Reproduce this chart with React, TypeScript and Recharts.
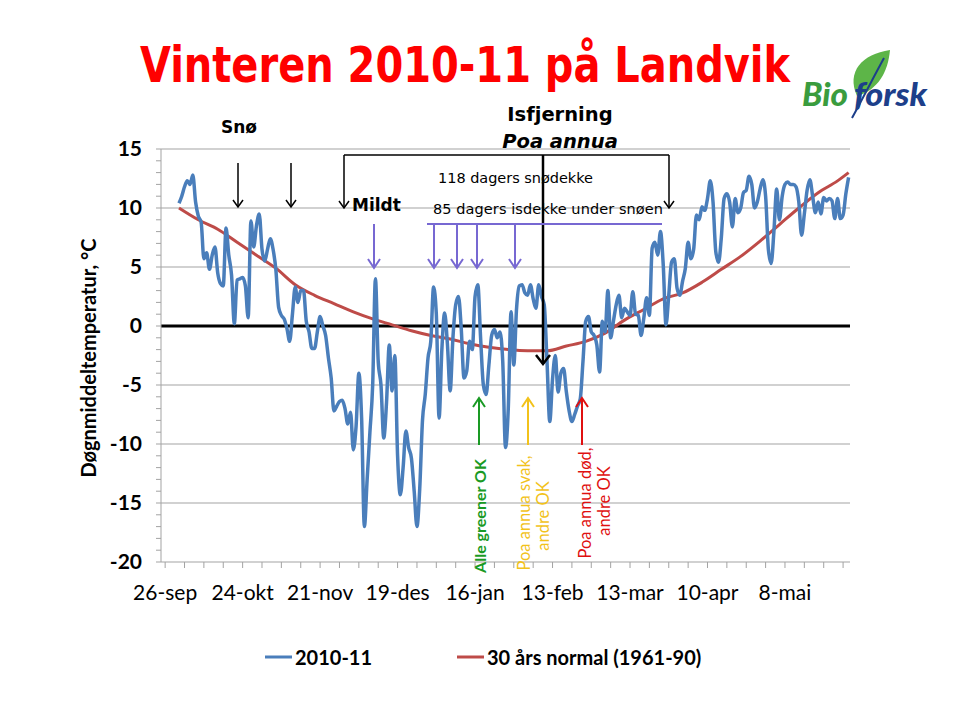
import React from 'react';
import { LineChart, Line, XAxis, YAxis, ReferenceLine } from 'recharts';

// day numbers are counted from 26-sep 2010 (day 0)
const firstDay = 5; // 1-okt
const temp2010 = [
  10.4, 11.0, 11.8, 12.3, 12.0, 12.8, 10.5, 9.3, 8.8, 5.7, // day 5
  6.2, 4.8, 6.0, 6.7, 4.5, 3.6, 3.4, 8.3, 6.0, 4.3, // 15
  0.2, 3.9, 4.0, 4.1, 3.4, 0.7, 8.9, 6.7, 8.5, 9.5, // 25
  6.5, 5.5, 6.5, 7.4, 6.5, 4.8, 1.6, 0.9, 0.6, -0.2, // 35
  -1.3, 1.0, 3.3, 2.0, 3.0, 3.0, 0.4, -0.5, -1.9, -1.9, // 45
  -0.5, 0.8, 0.0, -0.8, -2.7, -4.4, -7.2, -6.8, -6.4, -6.3, // 55
  -7.0, -8.3, -7.3, -10.5, -8.5, -4.0, -7.8, -17.0, -13.0, -9.0, // 65
  -5.0, 4.0, -3.0, -5.0, -9.5, -6.5, -1.6, -5.5, -2.5, -11.0, // 75
  -14.3, -12.0, -8.9, -10.3, -11.2, -14.0, -17.0, -13.8, -8.0, -5.8, // 85
  -2.7, -1.3, 3.3, 1.0, -7.8, -2.0, 1.1, -1.5, -5.5, -1.0, // 95
  1.8, 2.5, -0.2, -4.4, -3.8, -1.3, -2.0, 2.5, 3.5, -1.0, // 105
  -5.0, -5.8, -3.3, -0.8, -0.3, -1.0, -0.5, -3.0, -10.3, -7.0, // 115
  1.2, -3.3, 1.5, 3.4, 3.5, 2.8, 2.6, 3.5, 2.3, 1.5, // 125
  3.5, 2.5, 1.8, -3.0, -8.1, -4.5, -2.5, -5.6, -4.0, -3.6, // 135
  -5.6, -7.2, -8.1, -7.5, -6.8, -6.2, -3.0, 0.4, 0.8, -0.5, // 145
  -0.8, -1.6, -3.9, 0.4, -0.5, 3.0, -1.0, 0.4, 1.8, 2.6, // 155
  0.7, 1.5, 1.2, 0.9, 2.9, 1.0, 0.9, -0.8, 0.7, 2.4, // 165
  0.9, 6.6, 7.1, 6.0, 8.0, 5.2, 0.1, 2.6, 5.4, 5.7, // 175
  3.2, 2.6, 3.8, 4.9, 7.1, 5.7, 6.5, 9.4, 9.0, 10.1, // 185
  9.8, 10.8, 12.3, 10.5, 6.3, 5.4, 7.5, 10.8, 11.2, 10.5, // 195
  8.4, 10.8, 9.6, 10.0, 11.3, 11.5, 12.7, 12.0, 10.0, 10.5, // 205
  11.6, 12.4, 11.0, 6.5, 5.3, 8.0, 11.6, 9.0, 11.0, 12.0, // 215
  12.2, 12.0, 12.0, 11.8, 10.5, 7.7, 9.5, 11.5, 12.4, 11.0, // 225
  9.6, 10.5, 9.5, 10.9, 10.6, 10.8, 10.6, 9.1, 10.8, 9.1, // 235
  9.4, 11.2, 12.6, // 245
];

const normalDays = [5, 12, 19, 26, 33, 40, 47, 54, 61, 68, 75, 82, 89, 96, 103, 110, 117, 124,
  131, 138, 145, 152, 159, 166, 173, 180, 187, 194, 201, 208, 215, 222, 229, 236, 243, 247];
const normalTemps = [10.0, 9.0, 8.2, 7.1, 6.0, 4.9, 3.5, 2.6, 1.9, 1.2, 0.6, 0.1, -0.4, -0.8, -1.1, -1.5, -1.8, -2.0,
  -2.1, -2.1, -1.7, -1.3, -0.6, 0.5, 1.4, 2.3, 2.8, 3.7, 4.8, 5.9, 7.2, 8.6, 10.0, 11.3, 12.3, 13.0];

const dateLabels = ['26-sep', '24-okt', '21-nov', '19-des', '16-jan', '13-feb', '13-mar', '10-apr', '8-mai'];
const gridTemps = [-15, -10, -5, 5, 10, 15];

const series = temp2010.map((t, i) => ({ day: firstDay + i, t }));
const normal = normalDays.map((day, i) => ({ day, t: normalTemps[i] }));
const weekTicks = Array.from({ length: 36 }, (_, i) => i * 7);
const degreeTicks = Array.from({ length: 36 }, (_, i) => i - 20);

const sans = "Lato, 'Open Sans', sans-serif";
const verd = "'DejaVu Sans', Verdana, sans-serif";

function Arrow({ x, y1, y2, color, w = 1.5, head = 7, half = 5 }: any) {
  const dir = y2 > y1 ? 1 : -1;
  return (
    <g stroke={color} strokeWidth={w} fill="none">
      <line x1={x} y1={y1} x2={x} y2={y2} />
      <polyline points={`${x - half},${y2 - dir * head} ${x},${y2} ${x + half},${y2 - dir * head}`} />
    </g>
  );
}

function VText({ x, y, color, children, bold = false, size = 16 }: any) {
  return (
    <text x={x} y={y} transform={`rotate(-90 ${x} ${y})`} textAnchor="middle" dominantBaseline="central"
      fill={color} fontFamily={sans} fontWeight={bold ? 700 : 400} fontSize={size}>
      {children}
    </text>
  );
}

function Overlay() {
  const purple = '#7768d2';
  return (
    <svg width={960} height={707} style={{ position: 'absolute', left: 0, top: 0, pointerEvents: 'none' }}>
      <g transform="translate(140 82) scale(1 1.12)">
        <text x={0} y={0} fill="#ff0000" fontFamily="'DejaVu Sans Condensed', 'DejaVu Sans', sans-serif"
          fontWeight={700} fontSize={44.5} textLength={650} lengthAdjust="spacingAndGlyphs">
          Vinteren 2010-11 på Landvik
        </text>
      </g>

      {/* logo */}
      <path d="M857 96 C846 72 862 54 890 50 C888 72 878 90 857 96 Z" fill="#5db548" />
      <path d="M852 118 C862 100 872 80 884 58" stroke="#1d3f8a" strokeWidth={2} fill="none" />
      <text x={802} y={106} fill="#3a9c3e" fontFamily={sans} fontWeight={900} fontStyle="italic" fontSize={32}
        textLength={46} lengthAdjust="spacingAndGlyphs">Bio</text>
      <text x={854} y={106} fill="#1d3f8a" fontFamily={sans} fontWeight={900} fontStyle="italic" fontSize={32}
        textLength={73} lengthAdjust="spacingAndGlyphs">forsk</text>

      <VText x={88} y={358} color="#000" bold size={20}>Døgnmiddeltemperatur, °C</VText>

      {/* snø and bracket */}
      <text x={221} y={133} fontFamily={verd} fontWeight={700} fontSize={17}>Snø</text>
      <Arrow x={238} y1={163} y2={207} color="#000" />
      <Arrow x={291} y1={163} y2={207} color="#000" />
      <line x1={344} y1={155} x2={669} y2={155} stroke="#000" strokeWidth={1.5} />
      <Arrow x={344} y1={155} y2={208} color="#000" />
      <Arrow x={669} y1={155} y2={208} color="#000" />
      <Arrow x={543} y1={155} y2={364} color="#000" w={2.5} head={9} half={7} />
      <text x={352} y={211} fontFamily={verd} fontWeight={700} fontSize={17}>Mildt</text>
      <text x={560} y={121} textAnchor="middle" fontFamily={verd} fontWeight={700} fontSize={19.5}>Isfjerning</text>
      <text x={560} y={148} textAnchor="middle" fontFamily={verd} fontWeight={700} fontStyle="italic" fontSize={19.5}>Poa annua</text>
      <text x={438} y={183} fontFamily={verd} fontSize={14.5} textLength={155}>118 dagers snødekke</text>
      <text x={433} y={214} fontFamily={verd} fontSize={14.5} textLength={230}>85 dagers isdekke under snøen</text>

      {/* ice cover */}
      <line x1={427} y1={224} x2={662} y2={224} stroke={purple} strokeWidth={2} />
      <Arrow x={374} y1={224} y2={268} color={purple} w={2} head={9} half={6} />
      {[434, 457, 477, 515].map((x) => (
        <Arrow key={x} x={x} y1={224} y2={268} color={purple} w={2} head={9} half={6} />
      ))}

      {/* status */}
      <Arrow x={479} y1={445} y2={398} color="#1a9a24" w={2} head={9} half={6} />
      <Arrow x={528} y1={445} y2={398} color="#f2c21b" w={2} head={9} half={6} />
      <Arrow x={582} y1={445} y2={398} color="#e01010" w={2} head={9} half={6} />
      <VText x={479} y={516} color="#1a9a24" bold size={16}>Alle greener OK</VText>
      <VText x={524} y={513} color="#f2c21b" size={16.5}>Poa annua svak,</VText>
      <VText x={543} y={516} color="#f2c21b" size={16.5}>andre OK</VText>
      <VText x={585} y={503} color="#e01010" size={16.5}>Poa annua død,</VText>
      <VText x={604} y={501} color="#e01010" size={16.5}>andre OK</VText>

      {/* legend */}
      <line x1={265} y1={657} x2={292} y2={657} stroke="#4a7ebb" strokeWidth={3} />
      <text x={295} y={665} fontFamily={sans} fontWeight={700} fontSize={20}>2010-11</text>
      <line x1={457} y1={657} x2={484} y2={657} stroke="#be4b48" strokeWidth={3} />
      <text x={487} y={665} fontFamily={sans} fontWeight={700} fontSize={20}>30 års normal (1961-90)</text>
    </svg>
  );
}

export default function App() {
  return (
    <div style={{ position: 'absolute', left: 0, top: 0, width: 960, height: 707, background: '#fff' }}>
      <LineChart width={960} height={707} data={series} margin={{ top: 149, right: 110, bottom: 115, left: 101 }}>
        {gridTemps.map((g) => (
          <ReferenceLine key={g} y={g} stroke="#a3a3a3" strokeWidth={1.2} />
        ))}
        <XAxis
          dataKey="day"
          type="number"
          domain={[-1.5, 247.5]}
          ticks={weekTicks}
          interval={0}
          tickFormatter={(d: number) => (d % 28 === 0 ? dateLabels[d / 28] : '')}
          stroke="#a3a3a3"
          tickSize={6}
          tickMargin={17}
          height={30}
          tick={{ fill: '#000', fontSize: 21, fontFamily: sans }}
        />
        <YAxis
          type="number"
          domain={[-20, 15]}
          ticks={degreeTicks}
          interval={0}
          tickFormatter={(v: number) => (v % 5 === 0 ? String(v) : '')}
          stroke="#a3a3a3"
          width={60}
          tickSize={5}
          tickMargin={14}
          tick={{ fill: '#000', fontSize: 21, fontWeight: 700, fontFamily: sans }}
        />
        <ReferenceLine y={0} stroke="#000" strokeWidth={3} />
        <Line data={normal} dataKey="t" type="monotone" stroke="#be4b48" strokeWidth={3} dot={false} isAnimationActive={false} />
        <Line dataKey="t" type="monotone" stroke="#4a7ebb" strokeWidth={3.5} dot={false} isAnimationActive={false} />
      </LineChart>
      <Overlay />
    </div>
  );
}
